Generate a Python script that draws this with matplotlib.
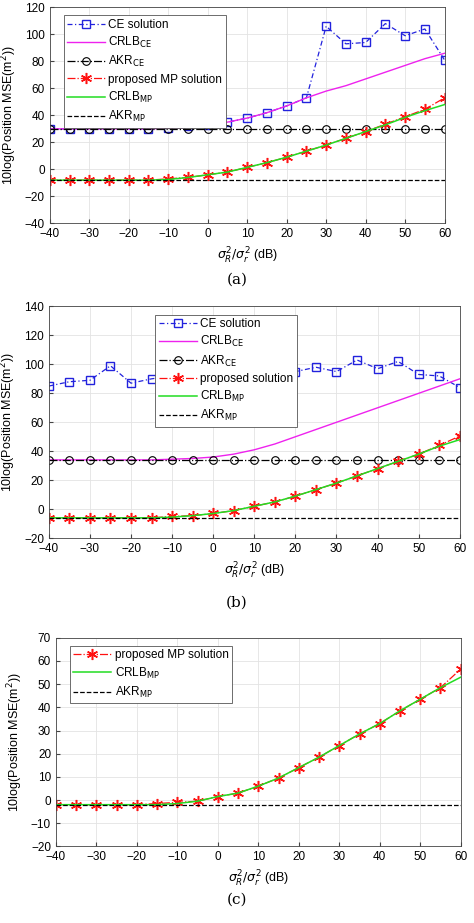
import matplotlib
matplotlib.use("Agg")
import matplotlib.pyplot as plt
import numpy as np

plt.rcParams['font.family'] = ['Liberation Sans', 'DejaVu Sans']
plt.rcParams['mathtext.fontset'] = 'dejavusans'

x = list(range(-40, 61, 5))

a_ce = [30,30,30,30,30,30,31,32,33,35,38,42,47,53,106,93,94,108,99,104,81]
a_crlb_ce = [30,30,30,30,30,30,30.5,31,32,35,38,42,47,53,58,62,67,72,77,82,86]
a_akr_ce = [30]*21
a_mp = [-8,-8,-8,-8,-8,-8,-7,-6,-4,-2,1.5,5,9,13.5,18,23,28,33.5,39,44.5,53]
a_crlb_mp = [-8,-8,-8,-8,-8,-8,-7.5,-6,-4,-2,1.5,5,9,13.5,18,23,28,33,38.5,43.5,48]
a_akr_mp = [-8]*21

b_ce = [85,88,89,99,87,90,92,90,93,91,94,93,95,98,95,103,97,102,93,92,84]
b_crlb_ce = [34,34,34,34,34,34,34.5,35,36,38,41,45,50,55,60,65,70,75,80,85,90]
b_akr_ce = [34]*21
b_mp = [-6,-6,-6,-6,-6,-6,-5,-4.5,-3,-1,2,5,9,13.5,18,23,28,33,38,44,50.5]
b_crlb_mp = [-6,-6,-6,-6,-6,-6,-5.5,-4.5,-3,-1,2,5,9,13.5,18,23,28,33,38,43.5,48]
b_akr_mp = [-6]*21

c_mp = [-2,-2,-2,-2,-2,-1.5,-1,-0.5,1.5,3,6,9.5,14,18.5,23.5,28.5,33,38.5,43.5,48.5,56.5]
c_crlb_mp = [-2,-2,-2,-2,-2,-2,-1.5,-0.5,1.5,3,6,9.5,14,18.5,23.5,28.5,33,38.5,43.5,48.5,53]
c_akr_mp = [-2]*21

xticks = list(range(-40, 61, 10))
FS = 8.5
fig = plt.figure(figsize=(4.74, 9.23), dpi=100)

def style(ax, ylim, yticks):
    ax.set_xlim(-40, 60)
    ax.set_ylim(*ylim)
    ax.set_xticks(xticks)
    ax.set_yticks(yticks)
    ax.grid(True, color='#e3e3e3', linewidth=0.6)
    ax.set_axisbelow(True)
    ax.tick_params(labelsize=FS, direction='in', length=3, color='#444')
    for s in ax.spines.values():
        s.set_color('#444'); s.set_linewidth(0.6)
    ax.set_ylabel(r'10log(Position MSE(m$^2$))', fontsize=FS+0.5)
    ax.set_xlabel(r'$\sigma_R^2/\sigma_r^2$ (dB)', fontsize=FS+0.5)

def ce_lines(ax, ce, crlb, akr):
    ax.plot(x, ce, ls=(0,(4,2,1,2)), color='#2222dd', marker='s', mfc='none', ms=5.5, mew=1, lw=0.9, label='CE solution')
    ax.plot(x, crlb, color='#ee22ee', lw=1, label=r'CRLB$_{\mathrm{CE}}$')
    ax.plot(x, akr, ls='-.', color='black', marker='o', mfc='none', ms=5.5, mew=0.8, lw=0.9, label=r'AKR$_{\mathrm{CE}}$')

def mp_lines(ax, mp, crlb, akr, lab):
    ax.plot(x, mp, ls='-.', color='#ff1111', marker=(6, 2, 0), ms=8, mew=1.1, lw=0.9, label=lab)
    ax.plot(x, crlb, color='#22dd22', lw=1.1, label=r'CRLB$_{\mathrm{MP}}$')
    ax.plot(x, akr, ls='--', color='black', lw=0.9, label=r'AKR$_{\mathrm{MP}}$')

def leg(ax, loc, anchor):
    l = ax.legend(loc=loc, bbox_to_anchor=anchor, fontsize=FS, fancybox=False, framealpha=1,
                  edgecolor='#555', handlelength=3.2, labelspacing=0.35, borderpad=0.3, handletextpad=0.3)
    l.get_frame().set_linewidth(0.6)

ax1 = fig.add_axes([0.105, 0.758, 0.833, 0.234])
ce_lines(ax1, a_ce, a_crlb_ce, a_akr_ce)
mp_lines(ax1, a_mp, a_crlb_mp, a_akr_mp, 'proposed MP solution')
style(ax1, (-40, 120), range(-40, 121, 20))
leg(ax1, 'upper left', (0.02, 0.99))
fig.text(0.5, 1-280/923, '(a)', ha='center', va='center', fontsize=11, family='DejaVu Serif')

ax2 = fig.add_axes([0.103, 0.417, 0.867, 0.251])
ce_lines(ax2, b_ce, b_crlb_ce, b_akr_ce)
mp_lines(ax2, b_mp, b_crlb_mp, b_akr_mp, 'proposed solution')
style(ax2, (-20, 140), range(-20, 141, 20))
leg(ax2, 'upper left', (0.245, 0.99))
fig.text(0.5, 1-603/923, '(b)', ha='center', va='center', fontsize=11, family='DejaVu Serif')

ax3 = fig.add_axes([0.118, 0.083, 0.854, 0.226])
mp_lines(ax3, c_mp, c_crlb_mp, c_akr_mp, 'proposed MP solution')
style(ax3, (-20, 70), range(-20, 71, 10))
leg(ax3, 'upper left', (0.02, 0.99))
fig.text(0.5, 1-900/923, '(c)', ha='center', va='center', fontsize=11, family='DejaVu Serif')

fig.savefig('out.png', dpi=100)
